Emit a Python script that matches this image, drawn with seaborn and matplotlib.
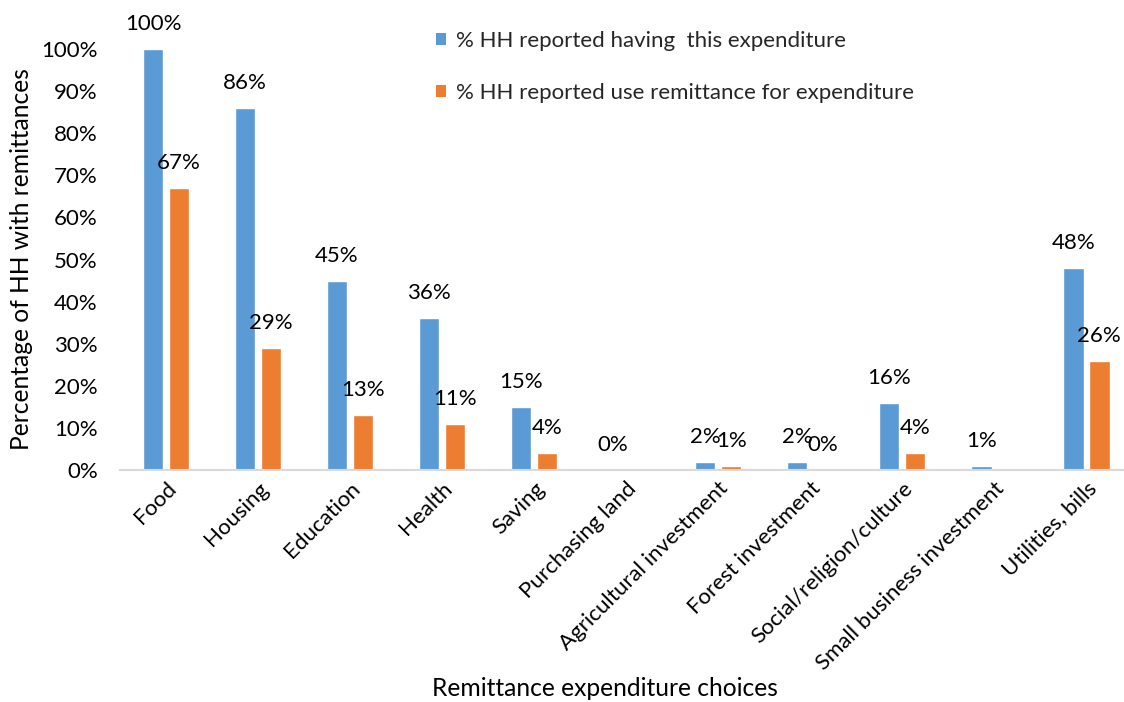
import numpy as np
import pandas as pd
import matplotlib
matplotlib.use("Agg")
import matplotlib.pyplot as plt
from matplotlib.patches import Patch
from matplotlib.ticker import FuncFormatter
import seaborn as sns

# Expenditure categories and the share of households (in %) for each series
categories = [
    "Food", "Housing", "Education", "Health", "Saving", "Purchasing land",
    "Agricultural investment", "Forest investment", "Social/religion/culture",
    "Small business investment", "Utilities, bills",
]
having_expenditure = [100, 86, 45, 36, 15, 0, 2, 2, 16, 1, 48]
use_remittance = [67, 29, 13, 11, 4, np.nan, 1, 0, 4, np.nan, 26]

series_names = [
    "% HH reported having  this expenditure",
    "% HH reported use remittance for expenditure",
]
colors = ["#5B9BD5", "#ED7D31"]

df = pd.DataFrame({
    "category": categories * 2,
    "series": [series_names[0]] * len(categories) + [series_names[1]] * len(categories),
    "value": having_expenditure + use_remittance,
})

sns.set_theme(style="white")
plt.rcParams["font.family"] = ["Lato", "DejaVu Sans"]

W, H = 1124, 702
fig = plt.figure(figsize=(W / 100, H / 100), dpi=100)
ax = fig.add_axes([120 / W, 1 - 470 / H, 1 - 120 / W, (470 - 49) / H])

sns.barplot(
    data=df, x="category", y="value", hue="series", order=categories,
    hue_order=series_names, palette=colors, width=0.565, gap=0.21,
    saturation=1, errorbar=None, legend=False, ax=ax,
)

# Value labels above each bar
fs = 16
for container in ax.containers:
    for patch in container:
        h = patch.get_height()
        if np.isnan(h):
            continue
        ax.annotate(
            f"{h:.0f}%", xy=(patch.get_x() + patch.get_width() / 2, h),
            xytext=(0, 25), textcoords="offset pixels",
            ha="center", va="center", fontsize=fs, color="#000000",
        )

ax.set_ylim(0, 100)
ax.set_xlim(-0.5, 10.41)
ax.set_yticks(np.arange(0, 101, 10))
ax.yaxis.set_major_formatter(FuncFormatter(lambda v, p: f"{v:.0f}%"))
ax.tick_params(axis="y", length=0, pad=16, labelsize=fs, labelcolor="#000000")
ax.tick_params(axis="x", length=0, pad=6, labelsize=fs, labelcolor="#000000")
plt.setp(ax.get_xticklabels(), rotation=45, ha="right", rotation_mode="anchor")

for side in ["left", "top", "right"]:
    ax.spines[side].set_visible(False)
ax.spines["bottom"].set_color("#d9d9d9")
ax.spines["bottom"].set_linewidth(1.5)

ax.set_ylabel("Percentage of HH with remittances", fontsize=17.7, color="#000000", va="center")
ax.yaxis.set_label_coords(-98 / 1004, 0.5)
ax.set_xlabel("Remittance expenditure choices", fontsize=17.7, color="#000000", va="center")
ax.xaxis.set_label_coords((605 - 120) / 1004, (470 - 688) / 421)

handles = [Patch(facecolor=c, edgecolor="none") for c in colors]
fig.legend(
    handles, series_names, loc="upper left",
    bbox_to_anchor=(436 / W, 1 - 31 / H), bbox_transform=fig.transFigure,
    frameon=False, fontsize=fs, handlelength=0.47, handleheight=0.47,
    handletextpad=0.42, labelspacing=1.45, borderpad=0, borderaxespad=0,
)

fig.savefig("out.png", dpi=100)
